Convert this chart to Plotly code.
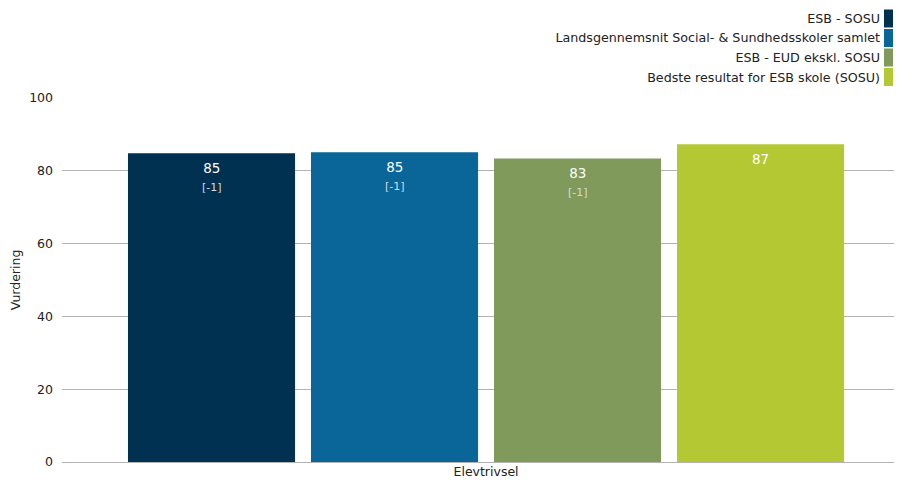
import plotly.graph_objects as go

# Data
serier = [
    "ESB - SOSU",
    "Landsgennemsnit Social- & Sundhedsskoler samlet",
    "ESB - EUD ekskl. SOSU",
    "Bedste resultat for ESB skole (SOSU)",
]
vaerdier = [84.8, 85.1, 83.4, 87.3]
etiketter = ["85", "85", "83", "87"]
aendringer = ["[-1]", "[-1]", "[-1]", ""]
farver = ["#003150", "#0a6699", "#7f9a5a", "#b4c834"]
kategori = "Elevtrivsel"
y_titel = "Vurdering"
y_ticks = [0, 20, 40, 60, 80, 100]

FONT = "DejaVu Sans"
TXT = "#222222"
W, H = 894, 473
ML, MR, MT, MB = 54, 0, 90, 19
PW, PH = W - ML - MR, H - MT - MB


def px_x(fx):
    return (fx - ML) / PW


def px_y(fy):
    return 1 - (fy - MT) / PH


fig = go.Figure()
pos = list(range(len(serier)))
for i, navn in enumerate(serier):
    fig.add_trace(go.Bar(
        x=[pos[i]], y=[vaerdier[i]], name=navn, width=0.913,
        marker=dict(color=farver[i], line=dict(width=0)),
        hoverinfo="name+y", showlegend=False,
    ))
    txt = etiketter[i]
    if aendringer[i]:
        txt += "<br><span style='font-size:11px;color:#d3dbe2'>" + aendringer[i] + "</span>"
    fig.add_annotation(
        x=pos[i], y=vaerdier[i], text=txt, showarrow=False,
        yanchor="top", yshift=-5, font=dict(family=FONT, size=13.5, color="white"),
    )

# Legend (text left of swatch, right aligned)
for i, navn in enumerate(serier):
    fy = 10.5 + 19.5 * i
    fig.add_annotation(
        xref="paper", yref="paper", x=px_x(874), y=px_y(fy), xanchor="right", yanchor="middle",
        width=400, align="right",
        text=navn, showarrow=False, font=dict(family=FONT, size=12.7, color=TXT),
    )
    fig.add_shape(
        type="rect", xref="paper", yref="paper",
        x0=px_x(876), x1=px_x(885), y0=px_y(fy + 9), y1=px_y(fy - 9),
        fillcolor=farver[i], line=dict(width=0),
    )

fig.update_layout(
    width=W, height=H,
    margin=dict(l=ML, r=MR, t=MT, b=MB),
    paper_bgcolor="white", plot_bgcolor="white",
    font=dict(family=FONT, size=12.5, color=TXT),
    xaxis=dict(
        range=[-0.817, 3.762 + 2 / 183], tickvals=[1.5], ticktext=[kategori],
        showgrid=False, zeroline=False, showline=False, ticks="",
        fixedrange=True, automargin=False,
    ),
    yaxis=dict(
        range=[0, 100], tickvals=y_ticks, showgrid=True, gridcolor="#b3b3b3",
        gridwidth=1, zeroline=True, zerolinecolor="#b3b3b3", zerolinewidth=1,
        title=dict(text=y_titel, font=dict(size=12.5), standoff=14),
        ticklabelstandoff=8, automargin=False,
    ),
    showlegend=False,
)

fig.write_html("out.html")
